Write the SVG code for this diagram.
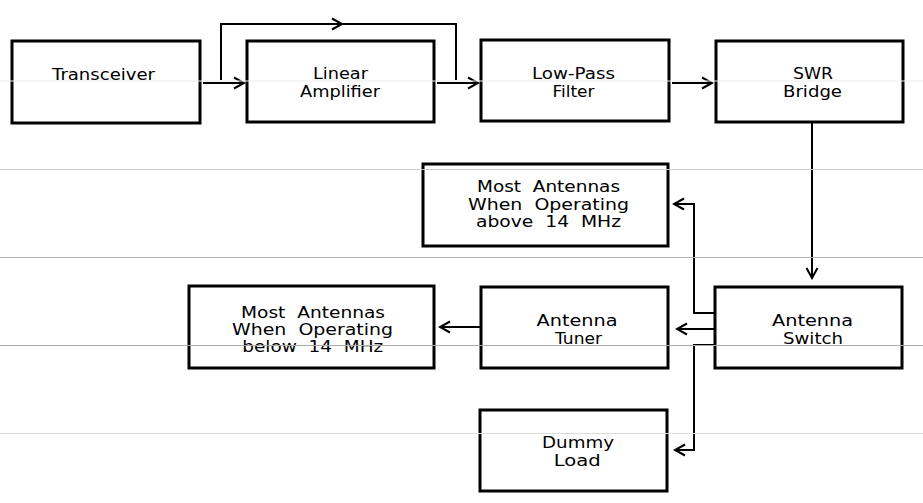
<svg xmlns="http://www.w3.org/2000/svg" width="923" height="503" viewBox="0 0 923 503">
<defs>
<style>
.box{fill:none;stroke:#000;stroke-width:3}
.wire{fill:none;stroke:#000;stroke-width:2}
.lbl{font-family:"DejaVu Sans","Liberation Sans",sans-serif;font-size:16px;fill:#000;text-anchor:middle;white-space:pre}
.sm{font-size:15px}
.rule{stroke-width:1}
</style>
<marker id="arr" markerUnits="userSpaceOnUse" markerWidth="14" markerHeight="14" viewBox="-12 -7 14 14" refX="0" refY="0" orient="auto">
<path d="M-10,-5.5 L0,0 L-10,5.5" fill="none" stroke="#000" stroke-width="2"/>
</marker>
</defs>
<rect width="923" height="503" fill="#fff"/>
<g id="transceiver"><rect class="box" x="12" y="41" width="188" height="82"/><text class="lbl" x="103.5" y="80" textLength="103" lengthAdjust="spacingAndGlyphs">Transceiver</text></g>
<g id="linear-amplifier"><rect class="box" x="247" y="41" width="187" height="81"/><text class="lbl" x="340.5" y="79" textLength="55" lengthAdjust="spacingAndGlyphs">Linear</text><text class="lbl" x="340" y="97" textLength="80" lengthAdjust="spacingAndGlyphs">Amplifier</text></g>
<g id="low-pass-filter"><rect class="box" x="481" y="40" width="188" height="81"/><text class="lbl" x="573.5" y="79" textLength="83" lengthAdjust="spacingAndGlyphs">Low-Pass</text><text class="lbl" x="573.5" y="97" textLength="42" lengthAdjust="spacingAndGlyphs">Filter</text></g>
<g id="swr-bridge"><rect class="box" x="716" y="41" width="187" height="81"/><text class="lbl" x="813" y="79" textLength="40" lengthAdjust="spacingAndGlyphs">SWR</text><text class="lbl" x="812.5" y="97" textLength="59" lengthAdjust="spacingAndGlyphs">Bridge</text></g>
<g id="antennas-above"><rect class="box" x="423" y="164" width="245" height="82"/><text class="lbl sm" x="548.5" y="192" textLength="143" lengthAdjust="spacingAndGlyphs">Most  Antennas</text><text class="lbl sm" x="548.5" y="209.5" textLength="161" lengthAdjust="spacingAndGlyphs">When  Operating</text><text class="lbl sm" x="548.5" y="227" textLength="145" lengthAdjust="spacingAndGlyphs">above  14  MHz</text></g>
<g id="antennas-below"><rect class="box" x="189" y="286" width="245" height="82"/><text class="lbl sm" x="313" y="318" textLength="144" lengthAdjust="spacingAndGlyphs">Most  Antennas</text><text class="lbl sm" x="312.5" y="335" textLength="161" lengthAdjust="spacingAndGlyphs">When  Operating</text><text class="lbl sm" x="312.8" y="352" textLength="141" lengthAdjust="spacingAndGlyphs">below  14  MHz</text></g>
<g id="antenna-tuner"><rect class="box" x="481" y="287" width="187" height="81"/><text class="lbl" x="577" y="325.5" textLength="81" lengthAdjust="spacingAndGlyphs">Antenna</text><text class="lbl" x="578.5" y="343.5" textLength="47" lengthAdjust="spacingAndGlyphs">Tuner</text></g>
<g id="antenna-switch"><rect class="box" x="715" y="287" width="187" height="81"/><text class="lbl" x="812.5" y="325.5" textLength="81" lengthAdjust="spacingAndGlyphs">Antenna</text><text class="lbl" x="813" y="343.5" textLength="60" lengthAdjust="spacingAndGlyphs">Switch</text></g>
<g id="dummy-load"><rect class="box" x="480" y="410" width="187" height="81"/><text class="lbl" x="578" y="447.5" textLength="72" lengthAdjust="spacingAndGlyphs">Dummy</text><text class="lbl" x="577.3" y="465.5" textLength="47" lengthAdjust="spacingAndGlyphs">Load</text></g>
<g id="connectors">
<path class="wire" d="M203,83 H244" marker-end="url(#arr)"/>
<path class="wire" d="M221,80 V24 H456 V80"/>
<path class="wire" d="M332,18.5 L342,24 L332,29.5"/>
<path class="wire" d="M437,83 H478" marker-end="url(#arr)"/>
<path class="wire" d="M672,83 H712" marker-end="url(#arr)"/>
<path class="wire" d="M812,122 V278" marker-end="url(#arr)"/>
<path class="wire" d="M714,313 H694 V204 H674" marker-end="url(#arr)"/>
<path class="wire" d="M714,329 H677" marker-end="url(#arr)"/>
<path class="wire" d="M714,345 H694 V450 H675" marker-end="url(#arr)"/>
<path class="wire" d="M694,345 H714" stroke-width="3"/>
<path class="wire" d="M481,327 H440" marker-end="url(#arr)"/>
</g>
<g id="rules">
<line class="rule" x1="0" y1="81" x2="923" y2="81" stroke="#ebebeb"/>
<line class="rule" x1="0" y1="169.5" x2="923" y2="169.5" stroke="#cccccc"/>
<line class="rule" x1="0" y1="257.5" x2="923" y2="257.5" stroke="#b4b4b4"/>
<line class="rule" x1="0" y1="345.5" x2="923" y2="345.5" stroke="#aaaaaa"/>
<line class="rule" x1="0" y1="433.5" x2="923" y2="433.5" stroke="#dddddd"/>
</g>
</svg>
